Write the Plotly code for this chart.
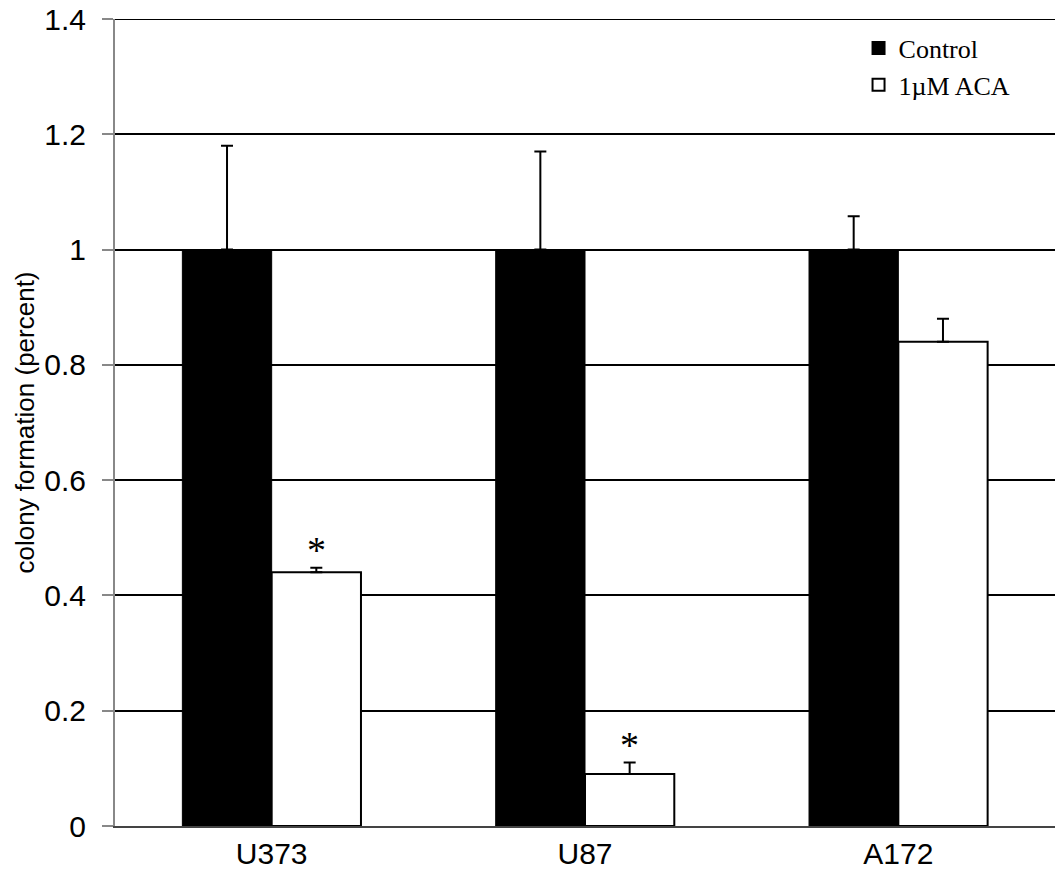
import plotly.graph_objects as go

categories = ["U373", "U87", "A172"]
control = [1.0, 1.0, 1.0]
control_err = [0.18, 0.17, 0.058]
aca = [0.44, 0.09, 0.84]
aca_err = [0.008, 0.02, 0.04]
y_ticks = [0, 0.2, 0.4, 0.6, 0.8, 1.0, 1.2, 1.4]
y_tick_labels = ["0", "0.2", "0.4", "0.6", "0.8", "1", "1.2", "1.4"]
sig_marks = ["*", "*", ""]

fig = go.Figure()
fig.add_trace(go.Bar(
    x=categories, y=control, name="Control",
    marker=dict(color="black", line=dict(color="black", width=1)),
    error_y=dict(type="data", symmetric=False, array=control_err,
                 arrayminus=[0] * len(control_err), color="black", thickness=2, width=6),
))
fig.add_trace(go.Bar(
    x=categories, y=aca, name="1µM ACA",
    marker=dict(color="white", line=dict(color="black", width=2)),
    error_y=dict(type="data", symmetric=False, array=aca_err,
                 arrayminus=[0] * len(aca_err), color="black", thickness=2, width=6),
))

for i, (cat, v, e, s) in enumerate(zip(categories, aca, aca_err, sig_marks)):
    if s:
        fig.add_annotation(x=i + 0.142, y=v + e, text=s, showarrow=False,
                           yanchor="bottom", yshift=-5,
                           font=dict(family="Liberation Serif", size=38, color="black"))

# top gridline at the upper end of the axis range
fig.add_shape(type="line", xref="paper", yref="y", x0=0, x1=1, y0=y_ticks[-1], y1=y_ticks[-1],
              line=dict(color="black", width=2))

fig.update_layout(
    width=1063, height=874,
    paper_bgcolor="white", plot_bgcolor="white",
    margin=dict(l=115, r=8, t=19, b=48),
    barmode="group", bargap=0.43, bargroupgap=0,
    font=dict(family="Liberation Sans", size=20, color="black"),
    showlegend=True,
    legend=dict(x=0.791, y=0.993, xanchor="left", yanchor="top",
                font=dict(family="Liberation Serif", size=26, color="black"),
                bgcolor="rgba(0,0,0,0)", tracegroupgap=0, itemsizing="constant"),
    xaxis=dict(showline=True, linecolor="#444", linewidth=2, ticks="",
               showgrid=False, tickfont=dict(size=30), automargin=False),
    yaxis=dict(range=[0, 1.4], tickvals=y_ticks, ticktext=y_tick_labels,
               showgrid=True, gridcolor="black", gridwidth=2,
               showline=True, linecolor="#888", linewidth=2,
               ticks="outside", ticklen=11, tickcolor="#888", tickwidth=2,
               ticklabelstandoff=10,
               zeroline=False, automargin=False,
               title=dict(text="colony formation (percent)", font=dict(size=26), standoff=2),
               tickfont=dict(size=30)),
)

fig.write_html("out.html", config={"displayModeBar": False},
               post_script="document.body.style.margin='0';")
